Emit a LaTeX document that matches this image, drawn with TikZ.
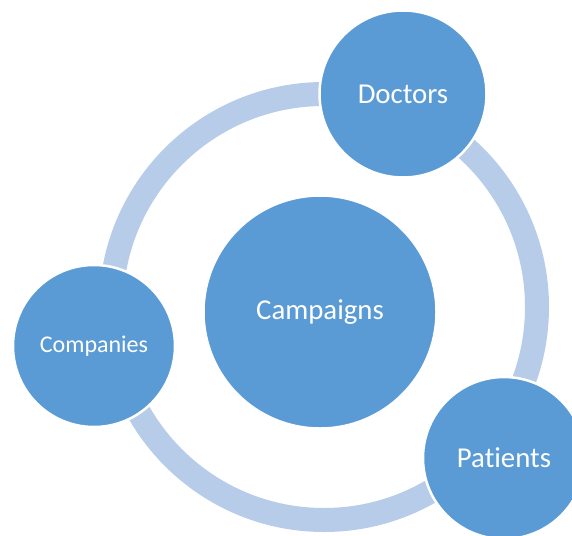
\documentclass[tikz,border=0pt]{standalone}
\usepackage{fontspec}
\setmainfont{Carlito}[Ligatures=NoCommon]
\begin{document}
\begin{tikzpicture}[x=1pt,y=-1pt]
        %colores
        \colorlet{azul}{rgb,255:red,91;green,155;blue,213}
        \colorlet{aro}{rgb,255:red,183;green,204;blue,232}
        \tikzset{
            bola/.style={circle,fill=azul,draw=white,line width=2.5pt,inner sep=0pt,text=white,
                font=\fontsize{28.8}{32}\selectfont}
        }

        % marco
        \useasboundingbox (0,0) rectangle (572,535);
        \clip (0,0) rectangle (572,535);

        % anillo de fondo
        \coordinate (centro) at (324,307);
        \draw[aro,line width=24pt] (centro) circle (213pt);

        % circulos
        \node[bola,minimum size=233pt] (campanas) at (320,312) {Campaigns};
        \node[bola,minimum size=167pt] (doctores) at (403,94) {Doctors};
        \node[bola,minimum size=162pt,font=\fontsize{24}{28}\selectfont] (empresas) at (94,346) {Companies};
        \node[bola,minimum size=162pt] (pacientes) at (504,458) {Patients};
    \end{tikzpicture}
\end{document}
